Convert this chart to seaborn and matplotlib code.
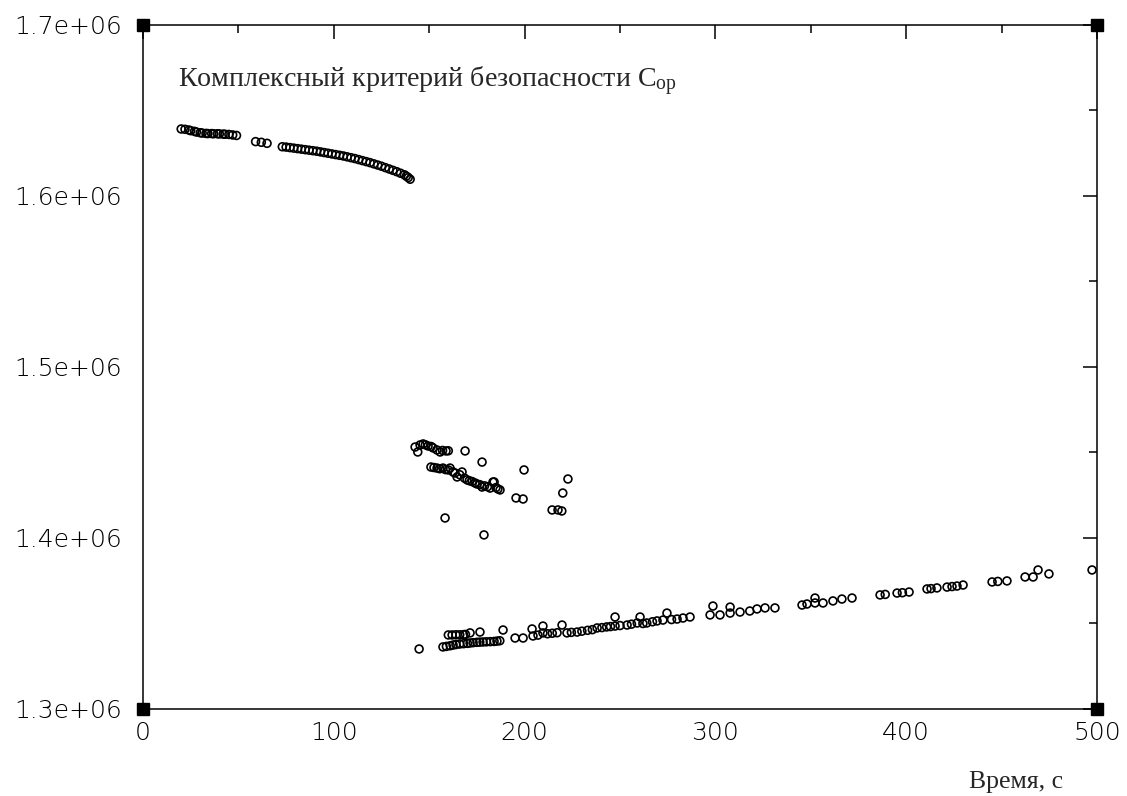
import matplotlib
matplotlib.use("Agg")
import matplotlib.pyplot as plt
import seaborn as sns
import pandas as pd
from matplotlib.ticker import MultipleLocator, FuncFormatter

# ---- data ----
t_upper = [20, 22, 24, 25, 27, 28, 30, 31, 33, 34, 36, 37, 39, 40, 42, 43, 45, 47, 49,
           59, 62, 65,
           73, 75, 77, 79, 81, 83, 85, 87, 89, 91, 93, 95, 97, 99, 101, 103, 105, 107,
           109, 111, 113, 115, 117, 119, 121, 123, 125, 127, 129, 131, 133, 135, 137,
           138, 139, 140]
v_upper = [1.6392, 1.6390, 1.6386, 1.6382, 1.6378, 1.6374, 1.6370, 1.6368, 1.6366, 1.6365,
           1.6365, 1.6364, 1.6364, 1.6363, 1.6362, 1.6361, 1.6360, 1.6357, 1.6354,
           1.6318, 1.6314, 1.6308,
           1.6288, 1.6286, 1.6283, 1.6280, 1.6277, 1.6274, 1.6271, 1.6268, 1.6265, 1.6262,
           1.6258, 1.6254, 1.6250, 1.6246, 1.6242, 1.6238, 1.6234, 1.6229, 1.6224, 1.6219,
           1.6213, 1.6207, 1.6201, 1.6195, 1.6188, 1.6181, 1.6174, 1.6166, 1.6158, 1.6150,
           1.6142, 1.6133, 1.6124, 1.6116, 1.6108, 1.6098]

t_middle = [142.6, 144, 145.2, 146.8, 148, 149.4, 151, 152, 154, 155.7, 157, 158.8, 160,
            168.8, 177.7, 199.7, 222.7, 220, 214.4, 217.5, 219.5, 195.5, 199.2, 158.3, 178.7,
            150.9, 152.5, 154.1, 155.5, 157.2, 158.5, 160, 160.9, 162.5, 163.5, 164.6, 166,
            167.2, 168.5, 169.8, 171, 172.5, 174, 175, 176.5, 177.7, 179, 180.5, 181.9,
            183.4, 184, 185, 186, 187.1]
v_middle = [1.4532, 1.4503, 1.4544, 1.4550, 1.4545, 1.4538, 1.4535, 1.4527, 1.4515, 1.4503,
            1.4512, 1.4509, 1.4510,
            1.4509, 1.4444, 1.4398, 1.4345, 1.4263, 1.4164, 1.4164, 1.4158, 1.4234, 1.4228,
            1.4117, 1.4018,
            1.4415, 1.4412, 1.4409, 1.4405, 1.4409, 1.4400, 1.4398, 1.4409, 1.4386, 1.4380,
            1.4357, 1.4370, 1.4386, 1.4350, 1.4340, 1.4335, 1.4330, 1.4322, 1.4316, 1.4312,
            1.4298, 1.4305, 1.4300, 1.4292, 1.4327, 1.4328, 1.4295, 1.4287, 1.4281]

t_lower = [144.7, 157.2, 159, 161, 162.5, 164, 166, 168, 170, 171.4, 173, 175, 176.5, 178.2,
           180, 182, 184, 185.5, 187,
           160, 162, 164, 166, 168, 169, 171.4, 176.6, 188.7,
           195, 199.2, 203.9, 204.4, 207, 209.6, 209.6, 212, 214.5, 217, 219.6, 222.2, 224.5,
           227.5, 230, 233, 235.5, 238, 240.5, 243, 245, 247.4, 247.4, 250, 253.7, 256, 259,
           260.5, 262, 264, 267, 269.4, 272.5, 274.6, 277, 279.9, 283, 286.7,
           297.2, 298.7, 302.4, 307.7, 307.7, 312.9, 318, 321.8, 326, 331.2,
           345.4, 348, 352.2, 352.2, 356.4, 361.6, 366.3, 371.6,
           386.3, 389, 395.2, 398, 401.5,
           410.9, 413, 416.1, 421.4, 424, 426.6, 429.8,
           445, 448, 452.8,
           462.3, 466.5, 469.1, 474.8, 497.4]
v_lower = [1.3351, 1.3363, 1.3366, 1.3370, 1.3374, 1.3377, 1.3380, 1.3382, 1.3384, 1.3386,
           1.3388, 1.3390, 1.3391, 1.3392, 1.3393, 1.3394, 1.3395, 1.3397, 1.3399,
           1.3433, 1.3433, 1.3434, 1.3434, 1.3435, 1.3436, 1.3445, 1.3450, 1.3462,
           1.3415, 1.3415, 1.3468, 1.3427, 1.3432, 1.3485, 1.3445, 1.3440, 1.3443, 1.3446,
           1.3491, 1.3445, 1.3448, 1.3450, 1.3455, 1.3460, 1.3464, 1.3474, 1.3476, 1.3480,
           1.3482, 1.3485, 1.3538, 1.3488, 1.3491, 1.3496, 1.3503, 1.3538, 1.3500, 1.3503,
           1.3510, 1.3515, 1.3520, 1.3561, 1.3523, 1.3526, 1.3532, 1.3538,
           1.3550, 1.3602, 1.3550, 1.3596, 1.3561, 1.3567, 1.3573, 1.3585, 1.3591, 1.3591,
           1.3608, 1.3614, 1.3649, 1.3620, 1.3620, 1.3632, 1.3643, 1.3649,
           1.3667, 1.3670, 1.3678, 1.3680, 1.3684,
           1.3702, 1.3704, 1.3708, 1.3713, 1.3716, 1.3719, 1.3725,
           1.3743, 1.3746, 1.3749,
           1.3772, 1.3772, 1.3813, 1.3790, 1.3813]

x_ticks = [0, 100, 200, 300, 400, 500]
y_ticks = [1.3e6, 1.4e6, 1.5e6, 1.6e6, 1.7e6]
title_text = "Комплексный критерий безопасности C$_{\\mathrm{op}}$"
x_label = "Время, с"

# ---- build frame ----
df = pd.DataFrame({
    "t": t_upper + t_middle + t_lower,
    "v": [v * 1e6 for v in v_upper + v_middle + v_lower],
})

sns.set_style("white")
plt.rcParams["font.family"] = ["DejaVu Sans"]
plt.rcParams["mathtext.fontset"] = "custom"
plt.rcParams["mathtext.rm"] = "Liberation Serif"
plt.rcParams["mathtext.it"] = "Liberation Serif:italic"

fig = plt.figure(figsize=(11.27, 7.96), dpi=100)
ax = fig.add_axes([0.1269, 0.1093, 0.8465, 0.8593])

sns.scatterplot(data=df, x="t", y="v", ax=ax, marker="o", s=32,
                facecolor="none", edgecolor="black", linewidth=1.2, legend=False)

ax.set_xlim(0, 500)
ax.set_ylim(1.3e6, 1.7e6)
ax.xaxis.set_major_locator(MultipleLocator(100))
ax.xaxis.set_minor_locator(MultipleLocator(50))
ax.yaxis.set_major_locator(MultipleLocator(1e5))
ax.yaxis.set_minor_locator(MultipleLocator(5e4))
ax.yaxis.set_major_formatter(FuncFormatter(lambda v, p: f"{v:.1e}"))
ax.set_xticks(x_ticks)
ax.set_yticks(y_ticks)

for s in ax.spines.values():
    s.set_color("black")
    s.set_linewidth(1.1)

ax.tick_params(which="both", direction="in", top=True, right=True, color="black",
               width=1.1)
ax.tick_params(which="major", length=10, labelsize=18)
ax.tick_params(which="minor", length=6)
ax.tick_params(axis="x", which="major", pad=9)
ax.tick_params(axis="y", which="major", pad=15)
for lab in ax.get_xticklabels() + ax.get_yticklabels():
    lab.set_fontweight("light")
    lab.set_color("black")

# corner squares
for cx, cy in [(0, 0), (0, 1), (1, 0), (1, 1)]:
    ax.plot(cx, cy, marker="s", markersize=9, color="black", transform=ax.transAxes,
            clip_on=False, zorder=5)

ax.text(0.0367, 0.918, title_text, transform=ax.transAxes, fontsize=20.2,
        family="Liberation Serif", va="center", ha="left")

ax.set_xlabel(x_label, fontsize=18.5, family="Liberation Serif")
ax.xaxis.set_label_coords(0.964, -0.09)
ax.xaxis.label.set_horizontalalignment("right")
ax.set_ylabel("")

fig.savefig("out.png", dpi=100)
